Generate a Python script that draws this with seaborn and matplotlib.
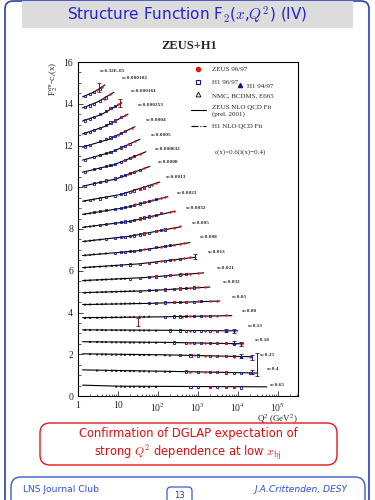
import numpy as np
import pandas as pd
import seaborn as sns
import matplotlib.pyplot as plt
from matplotlib.patches import FancyBboxPatch
from matplotlib.lines import Line2D

sns.set_style("ticks")
plt.rcParams['font.family'] = ['Liberation Serif', 'DejaVu Sans']
plt.rcParams['mathtext.fontset'] = 'stix'

# x bins, top curve first (offset c(x) already included in the y values)
x_labels = ["x=6.32E-05", "x=0.000102", "x=0.000161", "x=0.000253", "x=0.0004",
            "x=0.0005", "x=0.000632", "x=0.0008", "x=0.0013", "x=0.0021",
            "x=0.0032", "x=0.005", "x=0.008", "x=0.013", "x=0.021", "x=0.032",
            "x=0.05", "x=0.08", "x=0.13", "x=0.18", "x=0.25", "x=0.4", "x=0.65"]
label_q2 = [3.6, 12.6, 21, 32, 50, 67, 84, 100, 158, 300, 500, 710, 1120, 1780,
            3000, 4200, 7100, 12600, 17800, 26600, 35500, 53000, 63000]
label_y = [15.58, 15.24, 14.62, 13.94, 13.22, 12.5, 11.83, 11.2, 10.48, 9.71,
           8.99, 8.27, 7.6, 6.88, 6.15, 5.48, 4.76, 4.09, 3.37, 2.69, 1.97, 1.3, 0.53]

# QCD fit curves (start, middle, end)
fit_q2 = [[1.3, 2.5, 4.7], [1.3, 3.2, 7.9], [1.3, 4.0, 12.6], [1.3, 4.8, 17.8],
          [1.3, 5.9, 26.6], [1.3, 6.8, 35.5], [1.3, 8.0, 50], [1.3, 9.0, 63],
          [1.3, 12, 112], [1.3, 15, 178], [1.3, 19, 266], [1.3, 21, 355],
          [1.3, 29, 630], [1.3, 34, 890], [1.3, 43, 1410], [1.3, 50, 2000],
          [1.3, 68, 3550], [1.3, 95, 7080], [1.3, 110, 10000], [1.3, 140, 14100],
          [1.3, 170, 22400], [1.3, 200, 31600], [1.3, 10, 53000]]
fit_y = [[14.33, 14.56, 14.9], [13.8, 14.1, 14.55], [13.17, 13.5, 14.05],
         [12.55, 12.92, 13.5], [11.92, 12.3, 12.9], [11.3, 11.68, 12.3],
         [10.72, 11.08, 11.7], [10.05, 10.4, 11.0], [9.33, 9.66, 10.25],
         [8.7, 9.02, 9.55], [8.08, 8.36, 8.85], [7.4, 7.66, 8.1],
         [6.73, 6.95, 7.35], [6.15, 6.33, 6.65], [5.53, 5.67, 5.9],
         [4.95, 5.04, 5.22], [4.38, 4.44, 4.55], [3.75, 3.79, 3.85],
         [3.17, 3.15, 3.12], [2.6, 2.57, 2.5], [2.02, 1.97, 1.88],
         [1.25, 1.18, 1.1], [0.52, 0.47, 0.44]]

# H1 96/97
h1_q2 = [[1.5, 2.0, 2.5, 3.5], [1.5, 2.0, 2.5, 3.5, 5.0],
         [1.5, 2.0, 2.5, 3.5, 5.0, 6.5, 8.5], [1.5, 2.0, 2.5, 3.5, 5.0, 6.5, 8.5, 12],
         [1.5, 2.0, 3.5, 5.0, 6.5, 8.5, 12, 15], [1.5, 2.5, 3.5, 5.0, 6.5, 8.5, 12, 15, 20],
         [1.5, 2.5, 3.5, 5.0, 6.5, 8.5, 12, 15, 20, 25],
         [1.5, 2.5, 3.5, 5.0, 8.5, 12, 15, 20, 25, 35],
         [2.0, 3.5, 5.0, 8.5, 12, 15, 20, 25, 35, 45, 60],
         [2.5, 3.5, 5.0, 8.5, 12, 15, 20, 25, 35, 45, 60, 90],
         [3.5, 5.0, 8.5, 12, 15, 20, 25, 35, 45, 60, 90, 120],
         [5.0, 8.5, 12, 15, 20, 25, 35, 45, 60, 90, 120, 150],
         [8.5, 12, 15, 20, 25, 35, 60, 90, 150, 200],
         [12, 20, 35, 60, 90, 150, 200, 350], [20, 35, 60, 90, 150, 200, 350, 500],
         [35, 60, 90, 150, 250, 350, 500, 800], [60, 90, 150, 250, 350, 500, 800, 1200],
         [150, 250, 350, 500, 800, 1200, 2000],
         [200, 350, 500, 800, 1200, 2000, 3000, 5000],
         [250, 500, 800, 1200, 2000, 3000, 5000, 8000],
         [350, 650, 1000, 2000, 3000, 5000, 8000, 12000],
         [500, 1000, 2000, 3000, 5000, 8000, 12000, 20000],
         [650, 1000, 2000, 3000, 5000, 8000, 12000]]
h1_y = [[14.36, 14.45, 14.55, 14.72], [13.83, 13.92, 14.0, 14.14, 14.3],
        [13.2, 13.28, 13.36, 13.5, 13.65, 13.78, 13.9],
        [12.58, 12.66, 12.73, 12.85, 12.98, 13.1, 13.2, 13.35],
        [11.95, 12.02, 12.2, 12.3, 12.38, 12.47, 12.6, 12.68],
        [11.32, 11.45, 11.55, 11.63, 11.7, 11.78, 11.9, 11.98, 12.08],
        [10.74, 10.86, 10.94, 11.02, 11.08, 11.12, 11.22, 11.3, 11.4, 11.48],
        [10.07, 10.18, 10.25, 10.32, 10.42, 10.52, 10.58, 10.67, 10.74, 10.84],
        [9.38, 9.46, 9.52, 9.6, 9.66, 9.7, 9.78, 9.84, 9.92, 9.99, 10.06],
        [8.8, 8.85, 8.9, 8.97, 9.0, 9.04, 9.1, 9.15, 9.22, 9.28, 9.34, 9.44],
        [8.2, 8.25, 8.3, 8.33, 8.36, 8.4, 8.43, 8.5, 8.55, 8.6, 8.68, 8.75],
        [7.52, 7.57, 7.6, 7.63, 7.66, 7.69, 7.74, 7.78, 7.82, 7.9, 7.95, 7.98],
        [6.85, 6.88, 6.9, 6.93, 6.96, 7.0, 7.06, 7.12, 7.2, 7.25],
        [6.26, 6.3, 6.33, 6.38, 6.42, 6.48, 6.5, 6.56],
        [5.62, 5.66, 5.7, 5.72, 5.76, 5.78, 5.82, 5.84],
        [5.03, 5.06, 5.08, 5.1, 5.13, 5.15, 5.17, 5.2],
        [4.46, 4.47, 4.48, 4.5, 4.5, 4.52, 4.52, 4.54],
        [3.8, 3.81, 3.81, 3.82, 3.82, 3.83, 3.84],
        [3.14, 3.14, 3.13, 3.12, 3.12, 3.11, 3.12, 3.1],
        [2.56, 2.55, 2.54, 2.54, 2.53, 2.52, 2.52, 2.5],
        [1.95, 1.94, 1.94, 1.92, 1.92, 1.9, 1.9, 1.88],
        [1.17, 1.16, 1.15, 1.14, 1.13, 1.12, 1.12, 1.1],
        [0.44, 0.44, 0.43, 0.43, 0.42, 0.42, 0.41]]

# ZEUS 96/97
zeus_q2 = [[3.0, 4.0], [4.5, 6.5], [6.5, 10], [8.5, 12, 15], [10, 15, 22], [12, 18, 27],
           [15, 22, 35], [18, 27, 45], [22, 35, 45, 70, 90], [27, 45, 70, 120, 150],
           [35, 70, 120, 200, 250], [45, 90, 150, 250, 350], [45, 120, 250, 350, 450],
           [60, 120, 250, 450, 650], [90, 200, 400, 650, 1000], [150, 350, 650, 1000, 1500],
           [250, 500, 1000, 2000, 3000], [400, 650, 1500, 3000, 5000],
           [650, 1500, 3000, 5000, 8000], [650, 1500, 3000, 5000, 12000],
           [800, 1500, 3000, 5000, 8000, 20000], [650, 1500, 3000, 5000, 20000],
           [2000, 5000, 8000]]
zeus_y = [[14.66, 14.82], [14.25, 14.48], [13.8, 14.0], [13.22, 13.36, 13.45],
          [12.52, 12.7, 12.85], [11.9, 12.05, 12.2], [11.3, 11.45, 11.6],
          [10.63, 10.76, 10.92], [9.8, 9.93, 10.0, 10.12, 10.2], [9.18, 9.3, 9.38, 9.5, 9.55],
          [8.5, 8.63, 8.75, 8.82, 8.86], [7.8, 7.9, 8.0, 8.06, 8.12],
          [7.03, 7.15, 7.25, 7.3, 7.35], [6.38, 6.45, 6.52, 6.6, 6.65],
          [5.73, 5.78, 5.84, 5.86, 5.88], [5.1, 5.15, 5.18, 5.2, 5.22],
          [4.5, 4.52, 4.53, 4.55, 4.56], [3.8, 3.82, 3.83, 3.84, 3.86],
          [3.13, 3.12, 3.1, 3.15, 3.1], [2.55, 2.53, 2.52, 2.52, 2.48],
          [1.95, 1.94, 1.92, 1.91, 1.89, 1.87], [1.16, 1.15, 1.14, 1.13, 1.12],
          [0.43, 0.42, 0.42]]

# NMC, BCDMS, E665 (fixed target)
ft_q2 = [[], [], [], [], [], [], [], [],
         [1.5, 2.5], [1.5, 2.0], [1.5, 2.0, 2.5], [1.5, 2.0, 2.5, 3.5],
         [1.5, 2.0, 2.5, 3.5, 5.0], [1.5, 2, 2.5, 3.5, 5, 7, 9],
         [1.5, 2, 3, 4, 5, 7, 9, 12, 15], [1.5, 2, 3, 4, 5, 7, 9, 12, 15, 20, 25],
         [1.5, 2, 3, 4, 5, 7, 9, 12, 15, 20, 25, 35],
         [1.5, 2, 3, 4, 5, 7, 9, 12, 15, 20, 25, 35, 45, 60],
         [1.5, 2, 3, 4, 5, 7, 9, 12, 15, 20, 25, 35, 45, 60, 90],
         [2, 3, 4, 5, 7, 9, 12, 15, 20, 25, 35, 45, 60, 90, 150],
         [2, 3, 4, 5, 7, 9, 12, 15, 20, 25, 35, 45, 60, 90, 150, 200],
         [3, 5, 7, 9, 12, 15, 20, 25, 35, 45, 60, 90, 150, 200],
         [9, 12, 15, 20, 25, 35, 45, 60, 90]]
ft_y = [[], [], [], [], [], [], [], [],
        [9.35, 9.42], [8.72, 8.76], [8.1, 8.13, 8.16], [7.42, 7.45, 7.47, 7.5],
        [6.75, 6.77, 6.8, 6.82, 6.84], [6.16, 6.18, 6.19, 6.21, 6.22, 6.24, 6.25],
        [5.54, 5.55, 5.57, 5.58, 5.59, 5.6, 5.61, 5.62, 5.63],
        [4.96, 4.97, 4.98, 4.99, 5.0, 5.0, 5.01, 5.02, 5.02, 5.03, 5.04],
        [4.39, 4.4, 4.41, 4.41, 4.42, 4.42, 4.43, 4.43, 4.44, 4.44, 4.45, 4.45],
        [3.74, 3.75, 3.76, 3.76, 3.77, 3.77, 3.78, 3.78, 3.79, 3.79, 3.8, 3.8, 3.8, 3.81],
        [3.17, 3.17, 3.17, 3.17, 3.16, 3.16, 3.16, 3.16, 3.16, 3.15, 3.15, 3.15, 3.15, 3.15, 3.14],
        [2.6, 2.59, 2.59, 2.59, 2.58, 2.58, 2.58, 2.58, 2.57, 2.57, 2.57, 2.57, 2.57, 2.56, 2.56],
        [2.01, 2.0, 2.0, 2.0, 1.99, 1.99, 1.99, 1.98, 1.98, 1.98, 1.97, 1.97, 1.97, 1.96, 1.96, 1.95],
        [1.23, 1.22, 1.22, 1.21, 1.21, 1.2, 1.2, 1.2, 1.19, 1.19, 1.18, 1.18, 1.17, 1.17],
        [0.46, 0.46, 0.45, 0.45, 0.45, 0.45, 0.44, 0.44, 0.44]]

# the larger error bars that stand out
h1_err_q2 = [850, 5000, 8000, 8000, 12000, 12000, 22000, 22000, 31000]
h1_err_y = [6.66, 3.15, 3.12, 2.55, 2.5, 1.92, 1.86, 1.14, 1.5]
h1_err = [0.12, 0.08, 0.08, 0.08, 0.1, 0.08, 0.12, 0.1, 0.55]
zeus_err_q2 = [3.3, 11, 32]
zeus_err_y = [14.78, 14.05, 3.55]
zeus_err = [0.2, 0.2, 0.2]

RED = '#e01818'
BLUE = '#14148c'


def long_frame(q2_lists, y_lists):
    rows = []
    for i, (qs, ys) in enumerate(zip(q2_lists, y_lists)):
        for q, y in zip(qs, ys):
            rows.append((i, q, y))
    return pd.DataFrame(rows, columns=['bin', 'q2', 'y'])


fits = long_frame(fit_q2, fit_y)
h1 = long_frame(h1_q2, h1_y)
zeus = long_frame(zeus_q2, zeus_y)
ft = long_frame(ft_q2, ft_y)

fig = plt.figure(figsize=(3.75, 5), dpi=100)

# slide decoration in pixel coordinates
deco = fig.add_axes([0, 0, 1, 1], zorder=0)
deco.set_xlim(0, 375)
deco.set_ylim(500, 0)
deco.axis('off')
deco.add_patch(FancyBboxPatch((5, 1), 364, 540, boxstyle='round,pad=0,rounding_size=8',
                              fc='none', ec='#2b40b0', lw=1.2))
deco.add_patch(FancyBboxPatch((22, 1), 331, 27, boxstyle='square,pad=0',
                              fc='#dcdcdc', ec='none'))
deco.text(187, 15, r'Structure Function F$_2$($x$,$Q^2$) (IV)', ha='center', va='center',
          fontsize=11, color='#2323d0', family='DejaVu Sans', math_fontfamily='cm')
deco.text(189, 46, 'ZEUS+H1', ha='center', va='center', fontsize=9, fontweight='bold')
deco.add_patch(FancyBboxPatch((40, 423), 297, 42, boxstyle='round,pad=0,rounding_size=10',
                              fc='none', ec=RED, lw=1.0))
deco.text(188, 434, 'Confirmation of DGLAP expectation of', ha='center', va='center',
          fontsize=8.3, color='#dd1010', family='DejaVu Sans')
deco.text(188, 453, r'strong $Q^2$ dependence at low $x_{\mathrm{bj}}$', ha='center',
          va='center', fontsize=8.3, color='#dd1010', family='DejaVu Sans',
          math_fontfamily='cm')
deco.add_patch(FancyBboxPatch((11, 477), 354, 40, boxstyle='round,pad=0,rounding_size=10',
                              fc='none', ec='#3a5ec8', lw=1.0))
deco.text(23, 489, 'LNS Journal Club', ha='left', va='center', fontsize=6.6,
          color='#2f4fd0', family='DejaVu Sans')
deco.text(348, 489, 'J.A.Crittenden, DESY', ha='right', va='center', fontsize=6.6,
          color='#2f4fd0', family='DejaVu Sans', style='italic')
deco.add_patch(FancyBboxPatch((167, 487), 25, 20, boxstyle='round,pad=0,rounding_size=4',
                              fc='white', ec='#3a5ec8', lw=0.9))
deco.text(179.5, 496, '13', ha='center', va='center', fontsize=6,
          color='#2a3a90', family='DejaVu Sans')

# the plot itself
ax = fig.add_axes([78 / 375, 1 - 396 / 500, 220 / 375, 334 / 500], zorder=1)
ax.set_xscale('log')

sns.lineplot(data=fits, x='q2', y='y', units='bin', estimator=None, sort=False,
             color='black', lw=0.8, ax=ax, zorder=2)
sns.scatterplot(data=ft, x='q2', y='y', marker='^', s=1.5, facecolor='none',
                edgecolor='black', linewidth=0.4, ax=ax, zorder=3)
sns.scatterplot(data=h1, x='q2', y='y', marker='s', s=2.5, facecolor='none',
                edgecolor=BLUE, linewidth=0.6, ax=ax, zorder=3)
sns.scatterplot(data=zeus, x='q2', y='y', marker='o', s=3, color=RED,
                linewidth=0, ax=ax, zorder=4)
ax.errorbar(h1_err_q2, h1_err_y, yerr=h1_err, fmt='none', ecolor=BLUE,
            elinewidth=0.7, capsize=1.3, capthick=0.6, zorder=4)
ax.errorbar(zeus_err_q2, zeus_err_y, yerr=zeus_err, fmt='none', ecolor='#8a1010',
            elinewidth=0.7, capsize=1.3, capthick=0.6, zorder=4)

for lab, q, y in zip(x_labels, label_q2, label_y):
    ax.text(q, y, lab, fontsize=3.8, ha='left', va='center', fontweight='bold')

ax.text(0.623, 0.73, 'c(x)=0.6(i(x)\u22120.4)', transform=ax.transAxes,
        fontsize=5, ha='left', va='center')

ax.set_xlim(1, 3.2e5)
ax.set_ylim(0, 16)
ax.set_xticks([1, 10, 100, 1e3, 1e4, 1e5])
ax.set_xticklabels(['1', '10', r'10$^2$', r'10$^3$', r'10$^4$', r'10$^5$'])
ax.set_yticks(np.arange(0, 17, 2))
ax.yaxis.set_minor_locator(plt.MultipleLocator(0.5))
ax.tick_params(axis='both', which='major', direction='in', length=3.5, width=0.6,
               labelsize=7, top=False, right=False)
ax.tick_params(axis='both', which='minor', direction='in', length=1.8, width=0.5,
               top=False, right=False)
for s in ax.spines.values():
    s.set_linewidth(0.8)
    s.set_color('black')
ax.set_xlabel(r'Q$^2$ (GeV$^2$)', loc='right', fontsize=6.5, labelpad=-1)
ax.set_ylabel(r'F$_2^{em}$-c$_i$(x)', loc='top', fontsize=6.5, labelpad=2)

handles = [Line2D([], [], marker='o', ls='none', color=RED, ms=3),
           Line2D([], [], marker='s', ls='none', mfc='none', mec=BLUE, ms=3.5, mew=0.8),
           Line2D([], [], marker='^', ls='none', mfc='none', mec='black', ms=3.5, mew=0.6),
           Line2D([], [], color='black', lw=0.8),
           Line2D([], [], color='black', lw=0.8, ls='-.')]
labels = ['ZEUS 96/97', 'H1 96/97', 'NMC, BCDMS, E665',
          'ZEUS NLO QCD Fit\n(prel. 2001)', 'H1 NLO QCD Fit']
leg = ax.legend(handles, labels, loc='upper left', bbox_to_anchor=(0.5, 0.995),
                frameon=False, fontsize=5, handlelength=2.2, handletextpad=0.8,
                labelspacing=1.0, borderaxespad=0)
ax.add_artist(leg)
ax.legend([Line2D([], [], marker='^', ls='none', color=BLUE, ms=3)], ['H1 94/97'],
          loc='upper left', bbox_to_anchor=(0.71, 0.946), frameon=False, fontsize=5,
          handlelength=1.0, handletextpad=0.5, borderaxespad=0)

fig.savefig('out.png', dpi=100)
